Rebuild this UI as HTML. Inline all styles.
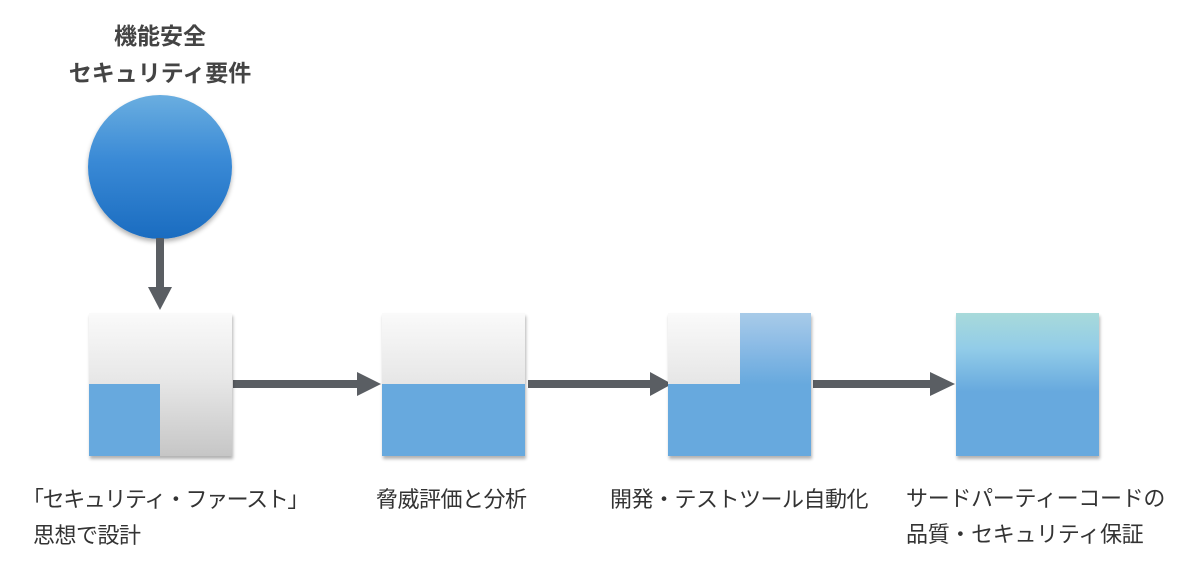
<!DOCTYPE html>
<html><head><meta charset="utf-8"><style>
body{margin:0;width:1192px;height:570px;background:#fff;position:relative;font-family:"Liberation Sans","Noto Sans CJK JP",sans-serif;color:#333;overflow:hidden}
.t{position:absolute;white-space:nowrap;font-size:22px;line-height:36px;letter-spacing:-0.5px}
.box{position:absolute;width:143px;height:143px;box-shadow:1px 3px 3px rgba(0,0,0,.3);overflow:hidden}
.g{background:linear-gradient(#fafafa,#e8e8e8 45%,#c6c6c6)}
.b{position:absolute;background:#67a9de}
</style></head><body>
<div class="t" style="left:160px;top:18px;transform:translateX(-50%);text-align:center;font-weight:bold;font-size:23px;line-height:37px;color:#444;letter-spacing:0">機能安全<br>セキュリティ要件</div>
<div style="position:absolute;left:88px;top:95px;width:144px;height:144px;border-radius:50%;background:linear-gradient(#6aaee0,#3a8ad6 45%,#1a6cc0);box-shadow:0 3px 5px rgba(0,0,0,.3)"></div>
<svg width="1192" height="570" style="position:absolute;left:0;top:0">
<g fill="#5a5e63">
<rect x="156" y="238" width="8" height="50"/><polygon points="148,287 172,287 160,310"/>
<rect x="233" y="380" width="126" height="8"/><polygon points="357,372 357,396 381,384"/>
<rect x="528" y="380" width="124" height="8"/><polygon points="650,372 650,396 672,384"/>
<rect x="813" y="380" width="120" height="8"/><polygon points="930,372 930,396 955,384"/>
</g></svg>
<div class="box g" style="left:89px;top:313px"><div class="b" style="left:0;top:71px;width:71px;height:72px"></div></div>
<div class="box g" style="left:382px;top:313px"><div class="b" style="left:0;top:71px;width:143px;height:72px"></div></div>
<div class="box" style="left:668px;top:313px;background:linear-gradient(#a8cbe8,#8fbde6 20%,#67a9de 50%,#67a9de)"><div style="position:absolute;left:0;top:0;width:72px;height:71px;background:linear-gradient(#fafafa,#e6e6e6)"></div></div>
<div class="box" style="left:956px;top:313px;background:linear-gradient(#a8dada,#92cce8 25%,#67a9de 55%,#67a9de)"></div>
<div class="t" style="left:22px;top:482px;letter-spacing:-1.4px">「セキュリティ・ファースト」<br><span style="margin-left:11px;letter-spacing:-0.5px">思想で設計</span></div>
<div class="t" style="left:376px;top:482px">脅威評価と分析</div>
<div class="t" style="left:610px;top:482px">開発・テストツール自動化</div>
<div class="t" style="left:906px;top:481px;letter-spacing:-0.3px">サードパーティーコードの<br>品質・セキュリティ保証</div>
</body></html>
